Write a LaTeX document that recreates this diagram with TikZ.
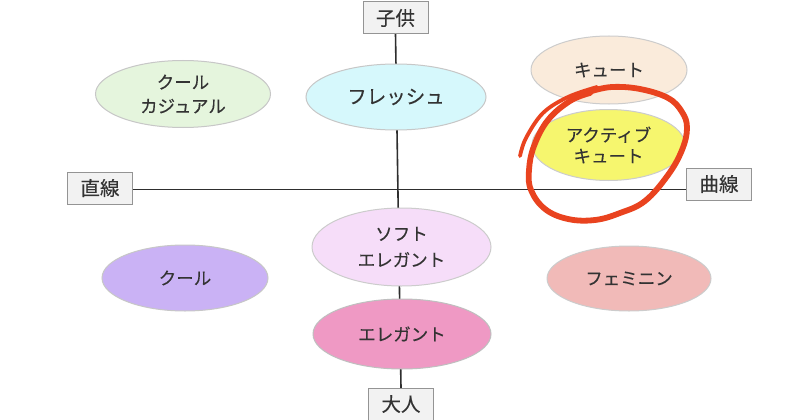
\documentclass[tikz,border=0pt]{standalone}
\usepackage{fontspec}
\setmainfont{Noto Sans CJK JP}[FakeBold=0.25]
\usetikzlibrary{shapes.geometric,backgrounds}
\definecolor{ink}{HTML}{333333}
\definecolor{redmark}{HTML}{E9431F}
\tikzset{
  oval/.style={ellipse,draw=#1,inner sep=0pt,outer sep=0pt,line width=1pt,align=center,text=ink,font=\fontsize{17.5}{20}\selectfont},
  axisbox/.style={rectangle,draw=black!42,fill=black!5,line width=1pt,inner sep=0pt,outer sep=0pt,minimum width=65pt,minimum height=32pt,text=ink,font=\fontsize{19.5}{20}\selectfont},
  axisline/.style={draw=black!82,line width=1.6pt},
  scribble/.style={draw=redmark,line width=5.8pt,line cap=round,line join=round}
}
\begin{document}
\begin{tikzpicture}[x=1pt,y=-1pt]
\useasboundingbox (0,0) rectangle (800,420);
\node[axisbox] (child) at (395.5,18) {子供};
\node[axisbox] (adult) at (401,404) {大人};
\node[axisbox] (straight) at (100,188) {直線};
\node[axisbox] (curve) at (719,184) {曲線};
\node[oval=black!22,fill={rgb,255:red,229;green,245;blue,221},minimum width=175pt,minimum height=67pt] (coolcasual) at (183,94) {クール\\[4pt]カジュアル};
\node[oval=black!22,fill={rgb,255:red,214;green,248;blue,252},minimum width=180pt,minimum height=66pt] (fresh) at (396,97) {\fontsize{19.5}{20}\selectfont フレッシュ};
\node[oval=black!20,fill={rgb,255:red,250;green,235;blue,219},minimum width=156pt,minimum height=68pt] (cute) at (609,70) {キュート};
\node[oval=black!20,fill={rgb,255:red,246;green,246;blue,110},minimum width=153pt,minimum height=71pt] (activecute) at (608.5,145) {アクティブ\\[1pt]キュート};
\node[oval=black!20,fill={rgb,255:red,246;green,221;blue,249},minimum width=179pt,minimum height=78pt] (softelegant) at (401.5,247) {ソフト\\[6pt]エレガント};
\node[oval=black!25,fill={rgb,255:red,239;green,153;blue,196},minimum width=178pt,minimum height=70pt] (elegant) at (402,334) {エレガント};
\node[oval=black!22,fill={rgb,255:red,202;green,178;blue,245},minimum width=166pt,minimum height=66pt] (cool) at (185,278) {クール};
\node[oval=black!20,fill={rgb,255:red,241;green,186;blue,184},minimum width=164pt,minimum height=65pt] (feminine) at (629,278.5) {フェミニン};
\begin{scope}[on background layer]
  \fill[white] (0,0) rectangle (800,420);
  \draw[axisline] (child.south) -- (adult.north);
  \draw[axisline] ([yshift=-1.5pt]straight.east) -- ([yshift=-5.5pt]curve.west);
\end{scope}
\draw[scribble,line width=3.8pt] plot[smooth,tension=0.6] coordinates {(520,156) (526,138) (543,113) (568,97) (597,87)};
\draw[scribble] plot[smooth,tension=0.65] coordinates {(592,91) (612,87) (640,89) (668,98) (682,112) (687,128) (682,150) (668,175) (645,201) (620,213) (595,220) (568,219) (545,209) (531,190) (529,170) (534,146) (548,120) (570,101) (590,93)};
\end{tikzpicture}
\end{document}
